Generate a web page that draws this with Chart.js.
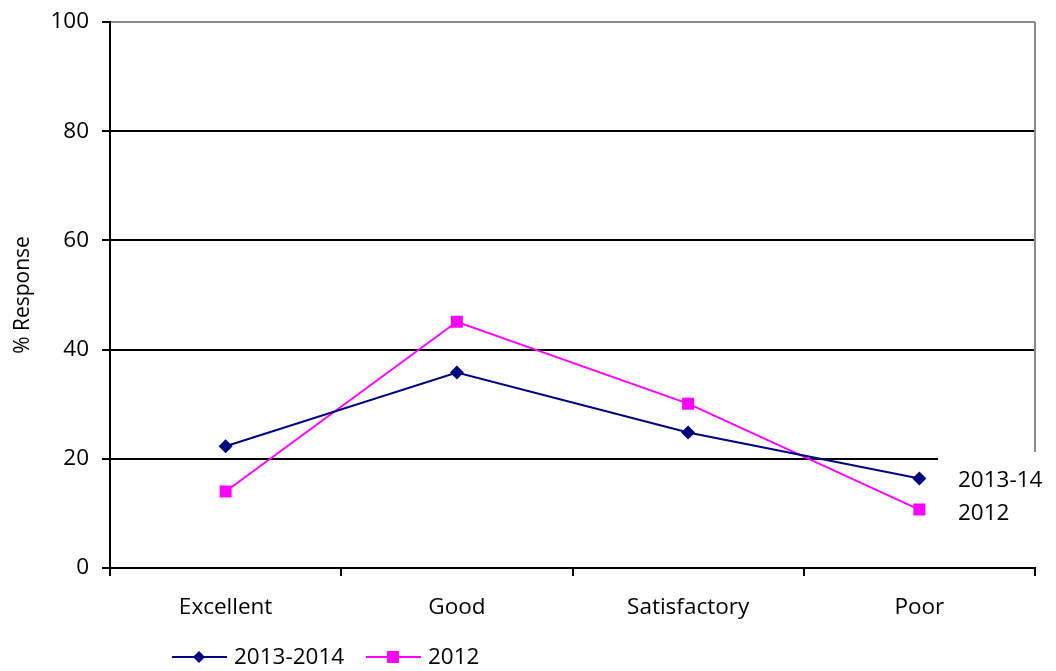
<!DOCTYPE html>
<html>
<head>
<meta charset="utf-8">
<script src="https://cdn.jsdelivr.net/npm/chart.js@4.4.1/dist/chart.umd.min.js"></script>
<style>
  html, body { margin: 0; padding: 0; background: #fff; }
  #wrap { width: 1056px; height: 671px; }
</style>
</head>
<body>
<div id="wrap"><canvas id="responseChart" width="1056" height="671"></canvas></div>
<script>
const categories = ['Excellent', 'Good', 'Satisfactory', 'Poor'];
const series2013 = [22.3, 35.8, 24.8, 16.4];
const series2012 = [14.0, 45.1, 30.1, 10.7];
const yTicks = [0, 20, 40, 60, 80, 100];

const FONT = '"Open Sans", sans-serif';
const NAVY = '#000080';
const PINK = '#ff00ff';

// end-of-line labels and the legend under the axis
const extras = {
    id: 'extras',
    afterDatasetsDraw(chart) {
        const ctx = chart.ctx;
        const area = chart.chartArea;
        ctx.save();
        // grey right edge of the plot frame
        ctx.strokeStyle = '#8c8c8c';
        ctx.lineWidth = 2;
        ctx.beginPath();
        ctx.moveTo(area.right, area.top);
        ctx.lineTo(area.right, 452);
        ctx.stroke();

        // white box behind the series names
        ctx.fillStyle = '#fff';
        ctx.fillRect(938, 452, 118, area.bottom - 454);
        ctx.fillStyle = '#000';
        ctx.font = '22.5px ' + FONT;
        ctx.textBaseline = 'middle';
        ctx.textAlign = 'left';
        ctx.fillText('2013-14', 958, 481);
        ctx.fillText('2012', 958, 514);

        // legend
        const ly = 657;
        const items = [
            {x: 172, color: NAVY, shape: 'diamond', text: '2013-2014'},
            {x: 366, color: PINK, shape: 'square', text: '2012'}
        ];
        items.forEach(function (it) {
            ctx.strokeStyle = it.color;
            ctx.fillStyle = it.color;
            ctx.lineWidth = 2;
            ctx.beginPath();
            ctx.moveTo(it.x, ly);
            ctx.lineTo(it.x + 55, ly);
            ctx.stroke();
            const cx = it.x + 27;
            ctx.beginPath();
            if (it.shape === 'diamond') {
                ctx.moveTo(cx - 6, ly);
                ctx.lineTo(cx, ly - 6);
                ctx.lineTo(cx + 6, ly);
                ctx.lineTo(cx, ly + 6);
                ctx.closePath();
            } else {
                ctx.rect(cx - 6, ly - 6, 12, 12);
            }
            ctx.fill();
            ctx.fillStyle = '#000';
            ctx.fillText(it.text, it.x + 62, ly + 1);
        });
        ctx.restore();
    }
};

const config = {
    type: 'line',
    data: {
        labels: categories,
        datasets: [{
            label: '2013-2014',
            data: series2013,
            borderColor: NAVY,
            backgroundColor: NAVY,
            borderWidth: 2,
            pointStyle: 'rectRot',
            pointRadius: 7,
            pointBorderWidth: 0,
            tension: 0
        }, {
            label: '2012',
            data: series2012,
            borderColor: PINK,
            backgroundColor: PINK,
            borderWidth: 2,
            pointStyle: 'rect',
            pointRadius: 8.5,
            pointBorderWidth: 0,
            tension: 0
        }]
    },
    options: {
        responsive: false,
        animation: false,
        layout: { padding: { top: 22, right: 21, left: 0, bottom: 0 } },
        plugins: {
            legend: { display: false },
            tooltip: { enabled: false }
        },
        scales: {
            x: {
                offset: true,
                grid: {
                    offset: true,
                    drawOnChartArea: false,
                    color: '#000',
                    lineWidth: 2,
                    tickLength: 8
                },
                border: { color: '#000', width: 2 },
                ticks: {
                    color: '#000',
                    padding: 18,
                    font: { family: FONT, size: 22.5 }
                },
                afterFit: function (scale) { scale.height = 103; }
            },
            y: {
                min: 0,
                max: 100,
                afterBuildTicks: function (scale) {
                    scale.ticks = yTicks.map(v => ({value: v}));
                },
                grid: {
                    color: ctx => ctx.tick && ctx.tick.value === 100 ? '#8c8c8c' : '#000',
                    tickColor: '#000',
                    lineWidth: 2,
                    tickLength: 8
                },
                border: { color: '#000', width: 2 },
                ticks: {
                    color: '#000',
                    padding: 13,
                    font: { family: FONT, size: 22.5 }
                },
                title: {
                    display: true,
                    text: '% Response',
                    color: '#000',
                    padding: { top: 10, bottom: 0 },
                    font: { family: FONT, size: 21 }
                },
                afterFit: function (scale) {
                    scale.width = 110;
                    scale.paddingTop = 0;
                    scale.paddingBottom = 0;
                }
            }
        }
    },
    plugins: [extras]
};

new Chart(document.getElementById('responseChart'), config);
</script>
</body>
</html>
